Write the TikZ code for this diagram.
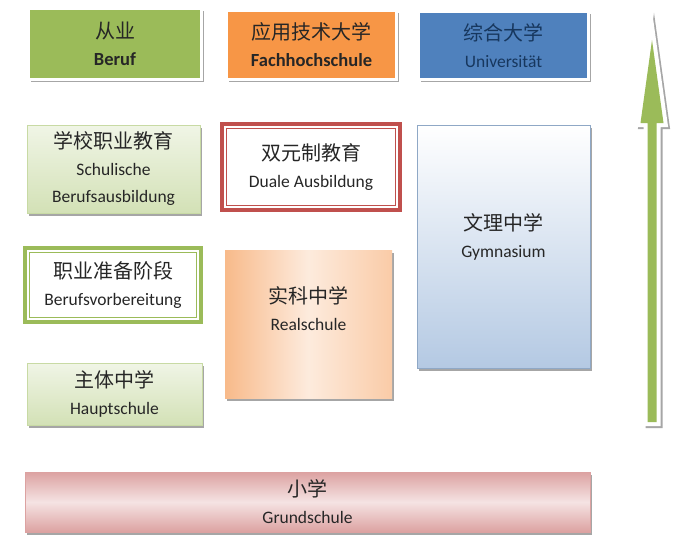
\documentclass[tikz,border=0pt]{standalone}
\usepackage{fontspec}
\setmainfont{Carlito}
\newfontfamily\cjk{Noto Sans CJK SC}
\usetikzlibrary{positioning, shadows}

\definecolor{berufgreen}{HTML}{9BBB59}
\definecolor{fhorange}{HTML}{F79646}
\definecolor{uniblue}{HTML}{4F81BD}
\definecolor{uninavy}{HTML}{17375E}
\definecolor{dualred}{HTML}{C0504D}
\definecolor{palegreen}{HTML}{F0F5E6}
\definecolor{sagegreen}{HTML}{D3E1B6}
\definecolor{peach}{HTML}{F8BA8A}
\definecolor{lightpeach}{HTML}{FDEBDD}
\definecolor{paleblue}{HTML}{B4C9E3}
\definecolor{gymborder}{HTML}{8FA8C6}
\definecolor{rosepink}{HTML}{DCA2A1}
\definecolor{lightrose}{HTML}{F5E3E3}

\newcommand{\zh}[1]{{\cjk\mdseries\fontsize{20}{27}\selectfont #1}}

\begin{document}
\begin{tikzpicture}[x=1pt, y=-1pt,
  every node/.style={align=center, inner sep=0pt, outer sep=0pt, text=black!85, font=\fontsize{17.5}{27}\selectfont},
  boxshadow/.style={drop shadow={shadow xshift=2pt, shadow yshift=-2.5pt, fill=black, opacity=0.35}},
  topbox/.style={rectangle, draw=white, line width=3pt, minimum width=170pt, minimum height=69pt, boxshadow},
  greenbox/.style={rectangle, draw=berufgreen!55, line width=0.6pt, top color=palegreen, bottom color=sagegreen, boxshadow},
  doublebox/.style={rectangle, draw=#1, line width=4pt, fill=white},
  arrowpath/.style={insert path={(652,40) -- (663.5,123) -- (656.5,123) -- (656.5,422) -- (647.5,422) -- (647.5,123) -- (640.5,123) -- cycle}}]
  \path[use as bounding box, fill=white] (0,0) rectangle (700,557);

  % top row
  \node[topbox, fill=berufgreen, minimum width=173pt, minimum height=71pt, font=\fontsize{18.5}{27}\selectfont\bfseries] (beruf) at (115,44) {\zh{从业}\\Beruf};
  \node[topbox, fill=fhorange, font=\fontsize{18.5}{27}\selectfont\bfseries] (fh) at (311.5,45) {\zh{应用技术大学}\\Fachhochschule};
  \node[topbox, fill=uniblue, minimum height=68pt, text=uninavy] (uni) at (503.5,45.5) {\zh{综合大学}\\Universität};

  % left column
  \node[greenbox, minimum width=173pt, minimum height=88pt] (schul) at (113.5,169) {\zh{学校职业教育}\\Schulische\\Berufsausbildung};
  \node[doublebox=berufgreen, minimum width=176pt, minimum height=74pt] (vorb) at (113,285) {\zh{职业准备阶段}\\Berufsvorbereitung};
  \draw[berufgreen, line width=1.2pt] ([shift={(4.5,4.5)}]vorb.north west) rectangle ([shift={(-4.5,-4.5)}]vorb.south east);
  \node[greenbox, minimum width=175pt, minimum height=62pt] (haupt) at (114.5,394) {\zh{主体中学}\\Hauptschule};

  % middle column
  \node[doublebox=dualred, minimum width=178pt, minimum height=86pt] (dual) at (311,167) {\zh{双元制教育}\\Duale Ausbildung};
  \draw[dualred, line width=1.2pt] ([shift={(4.5,4.5)}]dual.north west) rectangle ([shift={(-4.5,-4.5)}]dual.south east);
  \node[rectangle, minimum width=167pt, minimum height=148pt, left color=peach, right color=peach!75!white, middle color=lightpeach, boxshadow] (real) at (308.5,324) {};
  \node (realtxt) at ([yshift=15pt]real.center) {\zh{实科中学}\\Realschule};

  % right column
  \node[rectangle, draw=gymborder, line width=0.8pt, minimum width=173pt, minimum height=243pt, top color=white, bottom color=paleblue, boxshadow] (gym) at (503.5,246.5) {};
  \node (gymtxt) at ([yshift=10pt]gym.center) {\zh{文理中学}\\Gymnasium};

  % bottom
  \node[rectangle, draw=rosepink, line width=0.8pt, minimum width=565pt, minimum height=60pt, top color=rosepink, bottom color=rosepink, middle color=lightrose, boxshadow] (grund) at (307.5,502) {\zh{小学}\\Grundschule};

  % rising arrow: shadow, white rim, green body
  \path[draw=black!35, fill=black!35, line width=8pt, shift={(2,2)}, arrowpath];
  \path[draw=white, fill=white, line width=8pt, arrowpath];
  \path[fill=berufgreen, arrowpath];
\end{tikzpicture}
\end{document}
